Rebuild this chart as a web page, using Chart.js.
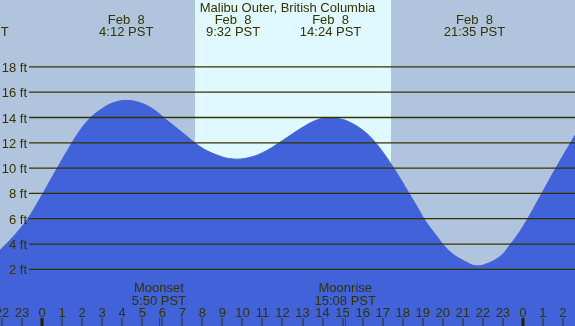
<!DOCTYPE html>
<html>
<head>
<meta charset="utf-8">
<script src="https://cdn.jsdelivr.net/npm/chart.js@4/dist/chart.umd.min.js"></script>
<style>
html,body{margin:0;padding:0;background:#b0c4de;}
#wrap{width:575px;height:326px;}
</style>
</head>
<body>
<div id="wrap"><canvas id="c" width="575" height="326"></canvas></div>
<script>
// ---- data (hours since midnight Feb 8, PST) ----
const tideHours = [-2.1,-1.43,-0.76,-0.1,0.56,1.23,1.9,2.4,2.9,3.56,4.2,4.89,5.55,6.22,7.05,7.88,8.72,9.53,10.38,11.2,12.04,12.87,13.71,14.4,15.0,15.37,15.78,16.2,16.62,17.04,17.45,17.87,18.3,18.7,19.1,19.53,20.36,21.19,21.58,22.02,22.85,23.35,24.0,24.85,25.68,26.6];
const tideFeet  = [3.5,4.6,5.9,7.6,9.45,11.3,13.0,13.95,14.6,15.17,15.35,15.17,14.65,13.8,12.75,11.7,11.04,10.72,10.85,11.38,12.22,13.09,13.8,14.0,13.85,13.62,13.25,12.75,12.05,11.2,10.25,9.2,8.05,7.0,5.9,4.97,3.39,2.55,2.3,2.34,3.0,3.92,5.37,7.74,10.1,12.6];
const extremeHours = [-3.2, 4.2, 9.533, 14.4, 21.583];
const extremeDates = ["Feb  7", "Feb  8", "Feb  8", "Feb  8", "Feb  8"];
const extremeTimes = ["20:48 PST", "4:12 PST", "9:32 PST", "14:24 PST", "21:35 PST"];
const sunriseHour = 7.63;
const sunsetHour = 17.41;
const moonHours = [5.833, 15.133];
const moonNames = ["Moonset", "Moonrise"];
const moonTimes = ["5:50 PST", "15:08 PST"];
const footTicks = [2,4,6,8,10,12,14,16,18];
const hourTicks = [-2,-1,0,1,2,3,4,5,6,7,8,9,10,11,12,13,14,15,16,17,18,19,20,21,22,23,24,25,26];
const title = "Malibu Outer, British Columbia";

const FONT = '13px "Liberation Sans", Arial, sans-serif';
const INK = '#333300';
const NIGHT = '#b0c4de', DAY = '#e0f8ff', WATER = '#4162d8';

const bgPlugin = {
  id: 'bg',
  beforeDatasetsDraw(chart) {
    const {ctx, chartArea: a, scales: {x}} = chart;
    ctx.save();
    ctx.fillStyle = NIGHT;
    ctx.fillRect(a.left, a.top, a.right - a.left, a.bottom - a.top);
    const x1 = x.getPixelForValue(sunriseHour), x2 = x.getPixelForValue(sunsetHour);
    ctx.fillStyle = DAY;
    ctx.fillRect(Math.round(x1), a.top, Math.round(x2) - Math.round(x1), a.bottom - a.top);
    ctx.restore();
  },
  afterDatasetsDraw(chart) {
    const {ctx, chartArea: a, scales: {x, y}} = chart;
    ctx.save();
    ctx.font = FONT;
    ctx.fillStyle = INK;
    ctx.strokeStyle = INK;
    ctx.lineWidth = 1.3;
    footTicks.forEach(f => {
      const py = y.getPixelForValue(f);
      ctx.beginPath();
      ctx.moveTo(29, py);
      ctx.lineTo(a.right, py);
      ctx.stroke();
      ctx.textAlign = 'right';
      ctx.textBaseline = 'alphabetic';
      ctx.fillText(f + ' ft', 27, py + 5);
    });
    ctx.textAlign = 'center';
    ctx.fillText(title, (a.left + a.right) / 2, 12);
    extremeHours.forEach((h, i) => {
      const px = x.getPixelForValue(h);
      ctx.fillText(extremeDates[i], px, 24);
      ctx.fillText(extremeTimes[i], px, 36);
    });
    moonHours.forEach((h, i) => {
      const px = x.getPixelForValue(h);
      ctx.fillText(moonNames[i], px, 292);
      ctx.fillText(moonTimes[i], px, 304.5);
    });
    hourTicks.forEach(h => {
      const px = x.getPixelForValue(h);
      const lab = ((h % 24) + 24) % 24;
      ctx.fillStyle = INK;
      ctx.fillText(String(lab), px, 317);
      if (lab === 0) {
        ctx.fillStyle = '#222200';
        ctx.fillRect(Math.round(px) - 1.5, 318, 3, 8);
      } else {
        ctx.fillStyle = INK;
        ctx.fillRect(Math.round(px) - 0.5, 318, 1, 8);
      }
    });
    ctx.fillStyle = '#e00000';
    moonHours.forEach(h => {
      const px = x.getPixelForValue(h);
      ctx.fillRect(Math.round(px), 318, 1, 8);
    });
    ctx.restore();
  }
};

new Chart(document.getElementById('c'), {
  type: 'line',
  data: {
    datasets: [{
      data: tideHours.map((h, i) => ({x: h, y: tideFeet[i]})),
      borderColor: WATER,
      borderWidth: 1,
      backgroundColor: WATER,
      fill: 'start',
      pointRadius: 0,
      tension: 0.4
    }]
  },
  options: {
    responsive: false,
    animation: false,
    devicePixelRatio: 1,
    layout: {padding: 0},
    plugins: {legend: {display: false}, title: {display: false}, tooltip: {enabled: false}},
    scales: {
      x: {type: 'linear', display: false, min: -2.1, max: 26.6},
      y: {type: 'linear', display: false, min: -2.48, max: 23.29}
    }
  },
  plugins: [bgPlugin]
});
</script>
</body>
</html>
